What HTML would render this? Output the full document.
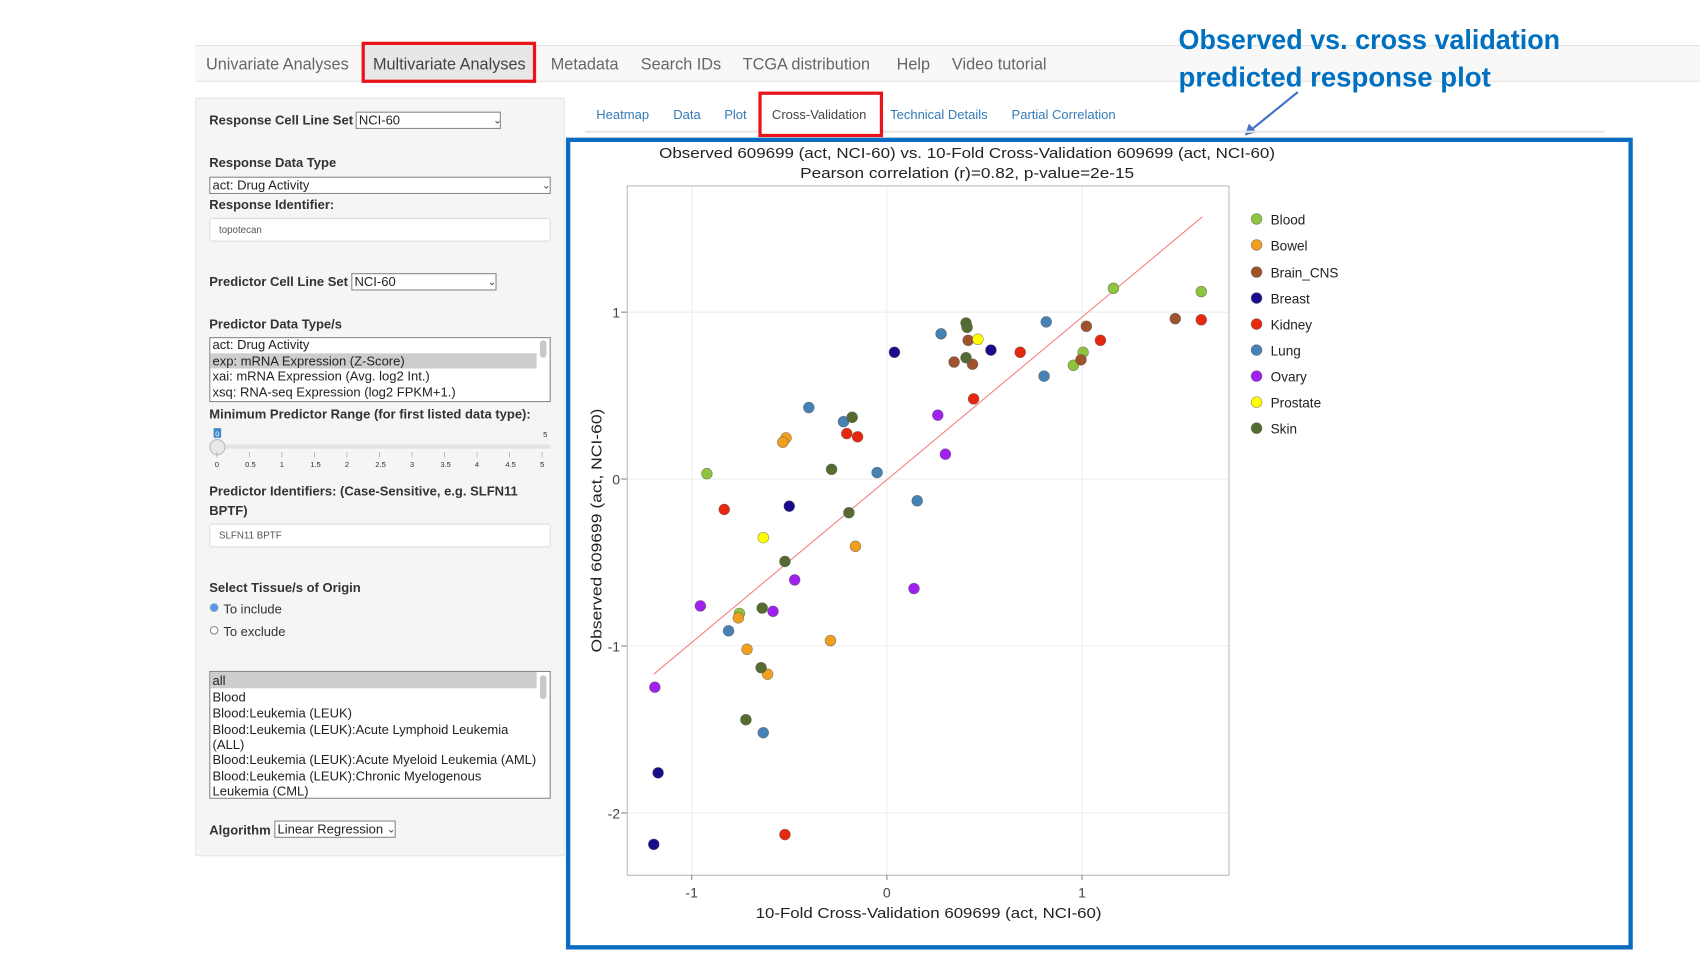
<!DOCTYPE html>
<html><head><meta charset="utf-8"><style>
html,body{margin:0;padding:0;background:#fff;width:1700px;height:956px;overflow:hidden}
svg{display:block}
text{font-family:"Liberation Sans",sans-serif}
</style></head><body>
<svg width="1700" height="956" viewBox="0 0 1568 882" preserveAspectRatio="none" xmlns="http://www.w3.org/2000/svg">
<rect x="180" y="42" width="1388" height="33" fill="#f8f8f8"/>
<line x1="180" y1="42" x2="1568" y2="42" stroke="#e4e4e4"/>
<line x1="180" y1="75" x2="1568" y2="75" stroke="#e4e4e4"/>
<rect x="335" y="40" width="158" height="35" fill="#e7e7e7" stroke="#e8141a" stroke-width="3"/>
<g font-size="15" fill="#666">
<text x="190" y="64">Univariate Analyses</text>
<text x="344" y="64" fill="#444">Multivariate Analyses</text>
<text x="508" y="64">Metadata</text>
<text x="591" y="64">Search IDs</text>
<text x="685" y="64">TCGA distribution</text>
<text x="827" y="64">Help</text>
<text x="878" y="64">Video tutorial</text>
</g>
<g font-size="26" font-weight="bold" fill="#0070c0" font-family="Liberation Sans Narrow,Liberation Sans,sans-serif">
<text x="1087" y="45" textLength="352" lengthAdjust="spacingAndGlyphs">Observed vs. cross validation</text>
<text x="1087" y="80" textLength="288" lengthAdjust="spacingAndGlyphs">predicted response plot</text>
</g>
<line x1="1197" y1="85" x2="1155" y2="119" stroke="#4472c4" stroke-width="2"/>
<polygon points="1148,125 1152,114 1159,122" fill="#4472c4"/>
<rect x="180.5" y="90.5" width="340" height="699" fill="#f5f5f5" stroke="#e6e6e6"/>
<g font-size="12" font-weight="bold" fill="#333">
<text x="193" y="115">Response Cell Line Set</text>
<text x="193" y="154">Response Data Type</text>
<text x="193" y="193">Response Identifier:</text>
<text x="193" y="264">Predictor Cell Line Set</text>
<text x="193" y="303">Predictor Data Type/s</text>
<text x="193" y="386">Minimum Predictor Range (for first listed data type):</text>
<text x="193" y="457">Predictor Identifiers: (Case-Sensitive, e.g. SLFN11</text>
<text x="193" y="475">BPTF)</text>
<text x="193" y="546">Select Tissue/s of Origin</text>
<text x="193" y="770">Algorithm</text>
</g>
<g fill="#fff" stroke="#888">
<rect x="328.5" y="103.5" width="133" height="15"/>
<rect x="193.5" y="163.5" width="314" height="15"/>
<rect x="324.5" y="252.5" width="133" height="15"/>
<rect x="253.5" y="757.5" width="111" height="15"/>
</g>
<g fill="#fff" stroke="#ddd">
<rect x="193.5" y="201.5" width="314" height="21" rx="2"/>
<rect x="193.5" y="483.5" width="314" height="21" rx="2"/>
</g>
<g font-size="12" fill="#222">
<text x="331" y="115">NCI-60</text>
<text x="196" y="175">act: Drug Activity</text>
<text x="327" y="264">NCI-60</text>
<text x="256" y="769">Linear Regression</text>
</g>
<g font-size="9" fill="#333"><text x="455" y="114">⌄</text><text x="500" y="174">⌄</text><text x="450" y="263">⌄</text><text x="357" y="768">⌄</text></g>
<g font-size="9" fill="#555"><text x="202" y="215">topotecan</text><text x="202" y="497">SLFN11 BPTF</text></g>
<rect x="193.5" y="311.5" width="314" height="59" fill="#fff" stroke="#888"/>
<rect x="194" y="326" width="301" height="14" fill="#cdcdcd"/>
<rect x="498" y="314" width="6" height="16" rx="3" fill="#c8c8c8"/>
<g font-size="12" fill="#222">
<text x="196" y="322">act: Drug Activity</text>
<text x="196" y="337">exp: mRNA Expression (Z-Score)</text>
<text x="196" y="351">xai: mRNA Expression (Avg. log2 Int.)</text>
<text x="196" y="366">xsq: RNA-seq Expression (log2 FPKM+1.)</text>
</g>
<rect x="197" y="395" width="7" height="9" rx="1" fill="#428bca"/>
<text x="198.5" y="402.5" font-size="7" fill="#fff">0</text>
<text x="501" y="403" font-size="7" fill="#333">5</text>
<rect x="200" y="410" width="308" height="4" rx="2" fill="#e3e3e3"/>
<circle cx="200.5" cy="412.5" r="7" fill="#e8e8e8" stroke="#bbb"/>
<g stroke="#aaa" stroke-width="0.7">
<line x1="200" y1="417" x2="200" y2="422"/><line x1="230" y1="417" x2="230" y2="422"/><line x1="260" y1="417" x2="260" y2="422"/><line x1="290" y1="417" x2="290" y2="422"/><line x1="320" y1="417" x2="320" y2="422"/><line x1="350" y1="417" x2="350" y2="422"/><line x1="380" y1="417" x2="380" y2="422"/><line x1="410" y1="417" x2="410" y2="422"/><line x1="440" y1="417" x2="440" y2="422"/><line x1="470" y1="417" x2="470" y2="422"/><line x1="500" y1="417" x2="500" y2="422"/>
</g>
<g font-size="7" fill="#333" text-anchor="middle">
<text x="200" y="431">0</text><text x="231" y="431">0.5</text><text x="260" y="431">1</text><text x="291" y="431">1.5</text><text x="320" y="431">2</text><text x="351" y="431">2.5</text><text x="380" y="431">3</text><text x="411" y="431">3.5</text><text x="440" y="431">4</text><text x="471" y="431">4.5</text><text x="500" y="431">5</text>
</g>
<circle cx="197.5" cy="560.5" r="3.5" fill="#5b8ff9" stroke="#7aa"/>
<circle cx="197.5" cy="581.5" r="3.5" fill="#fff" stroke="#888"/>
<g font-size="12" fill="#333"><text x="206" y="566">To include</text><text x="206" y="587">To exclude</text></g>
<rect x="193.5" y="619.5" width="314" height="117" fill="#fff" stroke="#888"/>
<rect x="194" y="620" width="301" height="15" fill="#cdcdcd"/>
<rect x="498" y="623" width="6" height="22" rx="3" fill="#c8c8c8"/>
<g font-size="12" fill="#222">
<text x="196" y="632">all</text>
<text x="196" y="647">Blood</text>
<text x="196" y="662">Blood:Leukemia (LEUK)</text>
<text x="196" y="677">Blood:Leukemia (LEUK):Acute Lymphoid Leukemia</text>
<text x="196" y="691">(ALL)</text>
<text x="196" y="705">Blood:Leukemia (LEUK):Acute Myeloid Leukemia (AML)</text>
<text x="196" y="720">Blood:Leukemia (LEUK):Chronic Myelogenous</text>
<text x="196" y="734">Leukemia (CML)</text>
</g>
<line x1="540" y1="121.5" x2="1480" y2="121.5" stroke="#e5e5e5" stroke-width="2"/>
<rect x="701" y="86" width="112" height="39" fill="#fff" stroke="#e8141a" stroke-width="3"/>
<g font-size="12" fill="#337ab7">
<text x="550" y="110">Heatmap</text>
<text x="621" y="110">Data</text>
<text x="668" y="110">Plot</text>
<text x="712" y="110" fill="#444">Cross-Validation</text>
<text x="821" y="110">Technical Details</text>
<text x="933" y="110">Partial Correlation</text>
</g>
<rect x="524" y="129" width="980" height="745" fill="#fff" stroke="#0a6cc2" stroke-width="4"/>
<g stroke="#eee" stroke-width="1">
<line x1="638" y1="171" x2="638" y2="807"/><line x1="818" y1="171" x2="818" y2="807"/><line x1="998" y1="171" x2="998" y2="807"/>
<line x1="578" y1="288" x2="1134" y2="288"/><line x1="578" y1="442" x2="1134" y2="442"/><line x1="578" y1="596" x2="1134" y2="596"/><line x1="578" y1="750" x2="1134" y2="750"/>
</g>
<rect x="578.5" y="171.5" width="555" height="636" fill="none" stroke="#bbb"/>
<g stroke="#888"><line x1="638" y1="807" x2="638" y2="812"/><line x1="818" y1="807" x2="818" y2="812"/><line x1="998" y1="807" x2="998" y2="812"/>
<line x1="573" y1="288" x2="578" y2="288"/><line x1="573" y1="442" x2="578" y2="442"/><line x1="573" y1="596" x2="578" y2="596"/><line x1="573" y1="750" x2="578" y2="750"/></g>
<g font-size="13" fill="#444" text-anchor="middle">
<text x="638" y="828">-1</text><text x="818" y="828">0</text><text x="998" y="828">1</text>
</g>
<g font-size="13" fill="#444" text-anchor="end">
<text x="572" y="293">1</text><text x="572" y="447">0</text><text x="572" y="601">-1</text><text x="572" y="755">-2</text>
</g>
<g font-size="14" fill="#222">
<text x="608" y="146" textLength="568" lengthAdjust="spacingAndGlyphs">Observed 609699 (act, NCI-60) vs. 10-Fold Cross-Validation 609699 (act, NCI-60)</text>
<text x="738" y="164" textLength="308" lengthAdjust="spacingAndGlyphs">Pearson correlation (r)=0.82, p-value=2e-15</text>
<text x="697" y="847" textLength="319" lengthAdjust="spacingAndGlyphs">10-Fold Cross-Validation 609699 (act, NCI-60)</text>
<text transform="translate(555,602) rotate(-90)" textLength="225" lengthAdjust="spacingAndGlyphs">Observed 609699 (act, NCI-60)</text>
</g>
<line x1="603" y1="622" x2="1109" y2="200" stroke="#f08080" stroke-width="1"/>
<g stroke="#555" stroke-width="0.6" stroke-opacity="0.6">
<g fill="#8fc43f"><circle cx="652" cy="437" r="5"/><circle cx="1027" cy="266" r="5"/><circle cx="1108" cy="269" r="5"/><circle cx="999" cy="325" r="5"/><circle cx="990" cy="337" r="5"/><circle cx="682" cy="566" r="5"/></g>
<g fill="#f0a01e"><circle cx="725" cy="404" r="5"/><circle cx="722" cy="408" r="5"/><circle cx="789" cy="504" r="5"/><circle cx="681" cy="570" r="5"/><circle cx="689" cy="599" r="5"/><circle cx="708" cy="622" r="5"/><circle cx="766" cy="591" r="5"/></g>
<g fill="#a0522d"><circle cx="1084" cy="294" r="5"/><circle cx="1002" cy="301" r="5"/><circle cx="893" cy="314" r="5"/><circle cx="880" cy="334" r="5"/><circle cx="897" cy="336" r="5"/><circle cx="997" cy="332" r="5"/></g>
<g fill="#1a0a8c"><circle cx="825" cy="325" r="5"/><circle cx="914" cy="323" r="5"/><circle cx="728" cy="467" r="5"/><circle cx="607" cy="713" r="5"/><circle cx="603" cy="779" r="5"/></g>
<g fill="#e8280e"><circle cx="1108" cy="295" r="5"/><circle cx="1015" cy="314" r="5"/><circle cx="941" cy="325" r="5"/><circle cx="898" cy="368" r="5"/><circle cx="781" cy="400" r="5"/><circle cx="791" cy="403" r="5"/><circle cx="668" cy="470" r="5"/><circle cx="724" cy="770" r="5"/></g>
<g fill="#4682b4"><circle cx="965" cy="297" r="5"/><circle cx="868" cy="308" r="5"/><circle cx="963" cy="347" r="5"/><circle cx="746" cy="376" r="5"/><circle cx="778" cy="389" r="5"/><circle cx="809" cy="436" r="5"/><circle cx="846" cy="462" r="5"/><circle cx="672" cy="582" r="5"/><circle cx="704" cy="676" r="5"/></g>
<g fill="#a020f0"><circle cx="865" cy="383" r="5"/><circle cx="872" cy="419" r="5"/><circle cx="733" cy="535" r="5"/><circle cx="646" cy="559" r="5"/><circle cx="713" cy="564" r="5"/><circle cx="843" cy="543" r="5"/><circle cx="604" cy="634" r="5"/></g>
<g fill="#ffff00"><circle cx="902" cy="313" r="5"/><circle cx="704" cy="496" r="5"/></g>
<g fill="#556b2f"><circle cx="891" cy="298" r="5"/><circle cx="892" cy="302" r="5"/><circle cx="891" cy="330" r="5"/><circle cx="786" cy="385" r="5"/><circle cx="767" cy="433" r="5"/><circle cx="783" cy="473" r="5"/><circle cx="724" cy="518" r="5"/><circle cx="703" cy="561" r="5"/><circle cx="702" cy="616" r="5"/><circle cx="688" cy="664" r="5"/></g>
</g>
<g stroke="#555" stroke-width="0.6" stroke-opacity="0.6">
<circle cx="1159" cy="202" r="5" fill="#8fc43f"/><circle cx="1159" cy="226" r="5" fill="#f0a01e"/><circle cx="1159" cy="251" r="5" fill="#a0522d"/><circle cx="1159" cy="275" r="5" fill="#1a0a8c"/><circle cx="1159" cy="299" r="5" fill="#e8280e"/><circle cx="1159" cy="323" r="5" fill="#4682b4"/><circle cx="1159" cy="347" r="5" fill="#a020f0"/><circle cx="1159" cy="371" r="5" fill="#ffff00"/><circle cx="1159" cy="395" r="5" fill="#556b2f"/>
</g>
<g font-size="12.5" fill="#222">
<text x="1172" y="207">Blood</text><text x="1172" y="231">Bowel</text><text x="1172" y="256">Brain_CNS</text><text x="1172" y="280">Breast</text><text x="1172" y="304">Kidney</text><text x="1172" y="328">Lung</text><text x="1172" y="352">Ovary</text><text x="1172" y="376">Prostate</text><text x="1172" y="400">Skin</text>
</g>
</svg>
</body></html>
